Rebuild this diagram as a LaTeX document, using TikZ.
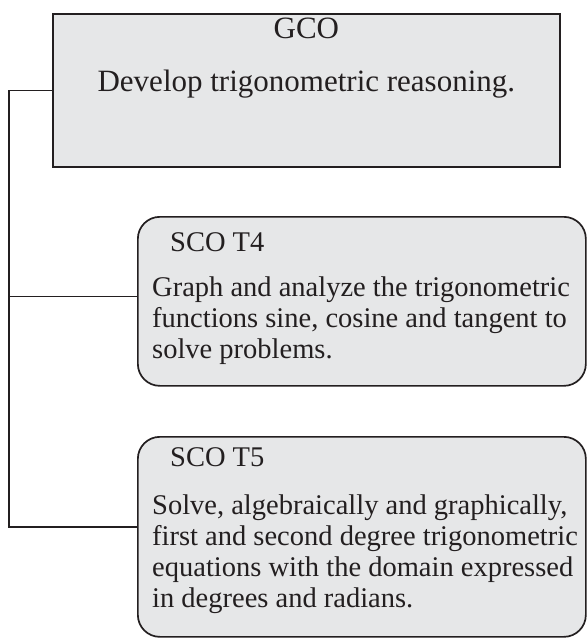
\documentclass[tikz,border=0pt]{standalone}
\usepackage{fontspec}
\setmainfont{Liberation Serif}
\usetikzlibrary{positioning}

\definecolor{boxgray}{RGB}{230,231,232}
\definecolor{linegray}{RGB}{35,31,32}

\tikzset{
  gcobox/.style={draw=linegray, fill=boxgray, line width=1.7pt, minimum width=507pt, minimum height=153pt, anchor=north west, inner sep=0pt},
  scobox/.style={gcobox, rounded corners=22pt, minimum width=448pt},
  boxtext/.style={inner sep=0pt, text=linegray, font=\fontsize{28.5}{31}\selectfont},
  wire/.style={draw=linegray, line width=1.5pt},
}

\begin{document}
\begin{tikzpicture}[x=1pt,y=-1pt]
  \useasboundingbox (0,0) rectangle (587,638);
  % boxes
  \node[gcobox] (gco) at (52,13) {};
  \node[scobox, minimum height=169pt] (t4) at (137,216) {};
  \node[scobox, minimum height=200pt] (t5) at (137,436) {};
  % texts
  \node[boxtext, align=center, font=\fontsize{31}{33}\selectfont, below=5pt of gco.north] (gcotext)
    {GCO\\[20pt]Develop trigonometric reasoning.};
  \node[boxtext, align=left, below right=16.5pt and 15pt of t4.north west] (t4text)
    {\hspace*{18pt}SCO T4\\[14pt]Graph and analyze the trigonometric\\functions sine, cosine and tangent to\\solve problems.};
  \node[boxtext, align=left, below right=11pt and 15pt of t5.north west] (t5text)
    {\hspace*{18pt}SCO T5\\[17pt]Solve, algebraically and graphically,\\first and second degree trigonometric\\equations with the domain expressed\\in degrees and radians.};
  % connectors
  \coordinate (spine) at ([xshift=-43pt]gco.west);
  \coordinate (t4in) at ([yshift=5pt]t4.west);
  \coordinate (t5in) at ([yshift=10pt]t5.west);
  \draw[wire] (gco.west) -- (spine) |- (t5in);
  \draw[wire] (t4in) -- (t4in -| spine);
\end{tikzpicture}
\end{document}
